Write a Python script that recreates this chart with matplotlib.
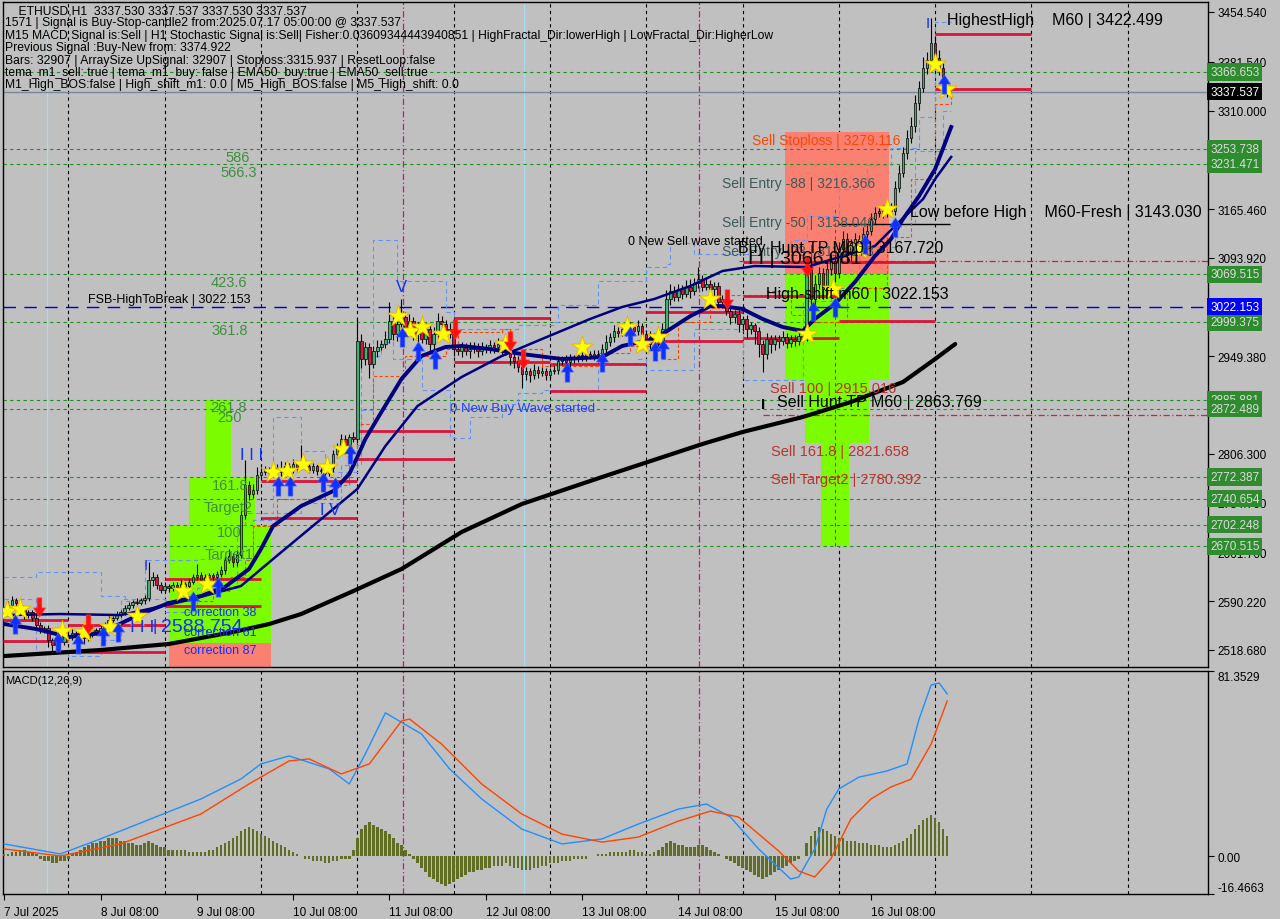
import matplotlib
matplotlib.use("Agg")
import numpy as np
import matplotlib.pyplot as plt
from matplotlib.path import Path
from matplotlib.patches import Rectangle

plt.rcParams['font.family'] = ['Liberation Sans', 'DejaVu Sans']

# ---- hourly ETHUSD candles, 7 Jul 08:00 onwards (closes)
first_open = 2575.0
closes = [
    2578, 2585, 2592, 2588, 2578, 2570, 2574, 2566, 2555, 2548, 2551, 2533, 2526, 2536, 2530, 2541, 2538, 2544, 2539, 2545, 2536, 2541, 2548, 2545,
    2551, 2557, 2563, 2566, 2572, 2574, 2580, 2585, 2589, 2588, 2592, 2595, 2622, 2625, 2614, 2607, 2613, 2610, 2614, 2611, 2616, 2613, 2619, 2625,
    2629, 2622, 2625, 2628, 2625, 2630, 2636, 2651, 2657, 2648, 2658, 2717, 2761, 2747, 2754, 2775, 2780, 2783, 2779, 2783, 2786, 2780, 2789, 2783,
    2791, 2786, 2795, 2789, 2783, 2788, 2781, 2783, 2778, 2786, 2806, 2816, 2828, 2820, 2831, 2828, 2972, 2945, 2963, 2938, 2957, 2963, 2967, 2975,
    3001, 2982, 2997, 3007, 2989, 3001, 2982, 2992, 2975, 2990, 2967, 2982, 3001, 2997, 2982, 2990, 2960, 2957, 2963, 2957, 2960, 2964, 2957, 2963,
    2960, 2966, 2963, 2967, 2960, 2963, 2948, 2942, 2934, 2923, 2928, 2922, 2930, 2925, 2928, 2922, 2928, 2930, 2942, 2945, 2941, 2948, 2945, 2951,
    2948, 2953, 2950, 2953, 2951, 2960, 2970, 2978, 2987, 2984, 2990, 2985, 2992, 2987, 2994, 2982, 2967, 2978, 2975, 2967, 2990, 3034, 3045, 3037,
    3048, 3041, 3051, 3045, 3057, 3063, 3051, 3056, 3048, 3053, 3029, 3034, 3016, 3007, 3012, 2997, 3004, 2990, 2995, 2987, 2967, 2953, 2975, 2967,
    2975, 2972, 2978, 2969, 2975, 2972, 2979, 2978, 3081, 3034, 3056, 3071, 3048, 3078, 3090, 3071, 3107, 3122, 3100, 3115, 3122, 3115, 3129, 3134,
    3151, 3159, 3163, 3160, 3169, 3163, 3196, 3218, 3247, 3269, 3287, 3321, 3343, 3372, 3384, 3409, 3387, 3372, 3350, 3337.537,
]
wick_up = [
    4, 5, 6, 3, 4, 3, 4, 3, 5, 4, 3, 4, 3, 6, 3, 4, 3, 5, 3, 4, 3, 4, 5, 3,
    4, 3, 5, 3, 4, 3, 5, 4, 3, 6, 3, 4, 26, 8, 5, 4, 6, 3, 5, 4, 6, 3, 4, 5,
    16, 4, 5, 3, 4, 5, 6, 6, 10, 4, 8, 10, 37, 6, 8, 12, 5, 6, 4, 8, 5, 10, 6, 4,
    8, 5, 25, 4, 6, 5, 4, 3, 4, 8, 6, 7, 8, 6, 5, 7, 32, 10, 8, 6, 8, 10, 6, 12,
    28, 10, 8, 26, 8, 10, 6, 8, 5, 9, 6, 10, 12, 8, 6, 8, 6, 5, 8, 6, 10, 6, 5, 7,
    5, 8, 5, 10, 6, 5, 4, 6, 8, 5, 6, 4, 8, 5, 6, 4, 5, 6, 8, 5, 6, 5, 4, 6,
    5, 6, 4, 5, 6, 8, 10, 6, 8, 5, 6, 5, 8, 4, 8, 5, 6, 8, 5, 6, 8, 12, 10, 8,
    8, 6, 10, 12, 8, 18, 6, 8, 6, 5, 6, 5, 6, 8, 5, 6, 5, 6, 5, 4, 5, 6, 8, 5,
    6, 5, 8, 5, 6, 5, 6, 8, 15, 10, 12, 10, 8, 12, 10, 8, 10, 12, 8, 6, 8, 6, 10, 8,
    8, 10, 6, 8, 8, 6, 10, 12, 10, 12, 14, 12, 10, 16, 12, 36, 10, 12, 8, 4,
]
wick_dn = [
    4, 3, 4, 5, 4, 6, 4, 5, 6, 5, 4, 10, 12, 6, 8, 4, 5, 4, 6, 5, 8, 4, 3, 5,
    4, 5, 3, 4, 3, 5, 4, 3, 5, 4, 3, 6, 4, 10, 6, 5, 4, 6, 5, 4, 5, 6, 4, 3,
    5, 6, 4, 5, 6, 5, 4, 6, 5, 8, 6, 4, 6, 8, 5, 6, 5, 4, 6, 5, 4, 6, 5, 4,
    5, 6, 4, 6, 5, 4, 6, 4, 5, 4, 6, 5, 4, 6, 5, 4, 6, 12, 8, 20, 6, 8, 5, 6,
    6, 8, 10, 5, 8, 6, 8, 12, 6, 8, 12, 8, 5, 6, 8, 6, 10, 6, 8, 6, 10, 6, 8, 5,
    6, 5, 8, 6, 10, 8, 12, 10, 8, 20, 8, 10, 6, 8, 5, 8, 6, 5, 6, 5, 6, 8, 5, 4,
    6, 5, 4, 6, 5, 4, 6, 5, 8, 6, 5, 6, 8, 5, 6, 10, 12, 8, 6, 10, 8, 6, 10, 6,
    6, 8, 5, 10, 6, 8, 6, 5, 8, 10, 6, 8, 6, 10, 8, 12, 10, 14, 8, 20, 18, 26, 8, 12,
    8, 10, 6, 8, 6, 8, 6, 5, 6, 10, 12, 8, 15, 8, 10, 12, 6, 8, 12, 10, 8, 6, 8, 6,
    6, 8, 5, 8, 6, 5, 6, 5, 6, 8, 6, 8, 10, 6, 8, 5, 8, 10, 12, 8,
]

# moving averages (bar index, price)
ema_fast_i = [0, 8, 16, 24, 34, 41, 49, 55, 61, 64, 67, 74, 82, 86, 88, 90, 94, 99, 104, 110, 114, 121, 129, 139, 149,
              154, 162, 166, 171, 176, 179, 184, 189, 194, 199, 202, 207, 212, 217, 221, 224, 228, 232, 236]
ema_fast_p = [2556.7, 2549.4, 2537.6, 2543.5, 2571.4, 2587.5, 2597.8, 2611.0, 2637.4, 2666.8, 2700.5, 2729.8, 2751.8,
              2776.8, 2801.7, 2828.1, 2867.7, 2916.2, 2949.9, 2963.1, 2964.6, 2960.2, 2952.8, 2945.5, 2948.4, 2964.6,
              2974.8, 2989.5, 3008.5, 3023.2, 3023.2, 3018.8, 3004.2, 2992.4, 2986.6, 3004.2, 3026.2, 3058.4, 3096.6,
              3121.5, 3150.9, 3184.6, 3224.2, 3285.8]
ema_mid_i = [0, 14, 29, 36, 47, 59, 67, 76, 82, 88, 95, 103, 114, 124, 134, 146, 154, 162, 171, 179, 187, 200, 209,
             217, 223, 229, 232, 236]
ema_mid_p = [2569.9, 2571.4, 2569.9, 2578.7, 2593.4, 2612.5, 2652.1, 2696.1, 2725.4, 2754.8, 2817.9, 2876.5, 2919.1,
             2949.9, 2974.8, 3004.2, 3021.8, 3033.5, 3052.6, 3074.6, 3081.9, 3080.4, 3096.6, 3111.2, 3146.5, 3180.2,
             3209.6, 3241.9]
ema_slow_i = [0, 24, 41, 57, 66, 74, 87, 99, 114, 129, 149, 174, 184, 199, 211, 224, 232, 237]
ema_slow_p = [2509.8, 2518.6, 2527.4, 2545.0, 2556.7, 2571.4, 2605.1, 2637.4, 2691.7, 2732.8, 2772.4, 2820.8, 2838.4,
              2860.4, 2882.4, 2911.8, 2945.5, 2967.5]

# channel (light blue dashed steps) and trailing line (orange dashed)
band_hi_i = [0, 8, 24, 30, 35, 48, 58, 60, 67, 72, 74, 80, 88, 89, 92, 97, 98, 110, 112, 128, 137, 138, 148, 158, 160,
             165, 166, 170, 172, 184, 186, 195, 196, 200, 208, 215, 221, 228, 232, 236]
band_hi_p = [2626, 2633, 2598, 2591, 2650, 2652, 2700, 2720, 2860, 2860, 2810, 2780, 2790, 2870, 3120, 3120, 3060, 3015,
             2990, 2995, 3000, 3025, 3060, 3060, 3080, 3085, 3115, 3115, 3100, 3100, 3090, 3090, 3120, 3155, 3195,
             3230, 3255, 3300, 3440, 3440]
band_lo_i = [0, 8, 16, 24, 29, 36, 40, 48, 58, 62, 68, 74, 84, 88, 89, 94, 97, 104, 111, 116, 124, 128, 134, 146, 148,
             158, 160, 172, 180, 184, 197, 199, 206, 213, 222, 227, 234, 236]
band_lo_p = [2593, 2515, 2510, 2533, 2593, 2593, 2575, 2610, 2650, 2710, 2720, 2735, 2790, 2820, 2950, 2970, 2945, 2900,
             2830, 2860, 2880, 2895, 2900, 2900, 2940, 2945, 2930, 2990, 2990, 2915, 2915, 3030, 3050, 3110, 3145, 3250,
             3310, 3310]
trail_i = [40, 52, 56, 60, 62, 68, 80, 86, 88, 92, 100, 110, 113, 124, 126, 134, 140, 148, 156, 164, 168, 176, 180,
           190, 196, 200, 210, 220, 226, 232, 236]
trail_p = [2590, 2605, 2625, 2650, 2700, 2740, 2760, 2790, 2850, 2920, 2950, 2960, 2985, 2990, 2960, 2935, 2935, 2955,
           2965, 2945, 3000, 3020, 3040, 3045, 3010, 3000, 3050, 3125, 3210, 3320, 3340]

# signal markers (bar index, price)
star_i = [0.7, 3.9, 14.4, 19.9, 26.4, 33.1, 44.6, 50.5, 67.0, 70.5, 74.5, 80.4, 84.4, 98.1, 101.1, 104.1, 109.4, 124.8,
          144.0, 155.2, 159.0, 163.0, 175.9, 200.1, 206.6, 213.3, 220.0, 232.0, 234.7]
star_p = [2575.8, 2578.7, 2546.5, 2545.0, 2552.3, 2568.5, 2605.1, 2615.4, 2779.7, 2781.2, 2791.4, 2787.0, 2813.4,
          3008.6, 2986.6, 2992.4, 2982.2, 2967.5, 2963.1, 2992.4, 2967.5, 2977.8, 3033.5, 2982.2, 3048.2, 3106.9,
          3165.6, 3378.3, 3341.6]
buy_i = [2.7, 13.4, 18.4, 24.6, 28.4, 47.1, 53.3, 68.2, 71.2, 79.4, 82.4, 86.2, 99.1, 103.1, 107.4, 140.3, 149.0, 156.0,
         162.2, 164.2, 201.6, 207.1, 214.5, 222.0, 234.2]
buy_p = [2556.7, 2530.3, 2527.4, 2539.1, 2545.0, 2590.5, 2611.0, 2759.2, 2759.2, 2765.0, 2757.7, 2806.1, 2977.8, 2957.2,
         2945.5, 2926.4, 2941.1, 2979.2, 2957.2, 2960.2, 3015.9, 3021.8, 3114.2, 3139.1, 3348.9]
sell_i = [8.7, 20.9, 112.3, 126.1, 129.3, 180.1, 200.1]
sell_p = [2581.7, 2556.7, 2989.5, 2971.9, 2945.5, 3033.5, 3080.4]

# previous-period high / low segments (crimson)
seg_x0 = [-0.3, -0.3, 16, 16, 40, 40, 64, 64, 88, 88, 112, 112, 136, 136, 160, 160, 184, 184, 184, 208, 232, 232]
seg_x1 = [16, 16, 40, 40, 64, 64, 88, 88, 112, 112, 136, 136, 160, 160, 184, 184, 208, 208, 232, 232, 256, 256]
seg_p = [2562.6, 2531.8, 2555.2, 2515.6, 2622.7, 2583.1, 2766.5, 2712.2, 2839.9, 2798.8, 3005.6, 2941.1, 2938.1,
         2898.5, 3014.4, 2971.9, 3037.9, 2976.3, 3087.8, 3001.2, 3422.499, 3341.6]

# fibonacci zones: x from, x to, price low, price high
zone_x0 = [50, 46, 41, 41, 194.5, 194.5, 199.5, 203.5]
zone_x1 = [56.5, 62.5, 66.5, 66.5, 220.5, 220.5, 215.5, 210.5]
zone_lo = [2772.387, 2702.248, 2529.0, 2470.0, 3069.515, 2915.016, 2821.658, 2670.515]
zone_hi = [2885.881, 2772.387, 2702.248, 2529.0, 3279.116, 3069.515, 2915.016, 2821.658]
zone_col = ['#7cfc00', '#7cfc00', '#7cfc00', '#fa8072', '#fa8072', '#7cfc00', '#7cfc00', '#7cfc00']

fib_levels = [3366.653, 3253.738, 3231.471, 3069.515, 2999.375, 2885.881, 2872.489, 2772.387, 2740.654, 2702.248, 2670.515]
bid_price = 3337.537
fsb_price = 3022.153
hunt_levels = [3089.0, 2863.769]
hunt_from = [183, 189]
low_before_high = 3143.030

price_ticks = [3454.540, 3381.540, 3310.000, 3165.460, 3093.920, 2949.380, 2806.300, 2734.760, 2661.760, 2590.220, 2518.680]
date_ticks = [0, 24, 48, 72, 96, 120, 144, 168, 192, 216]
date_labels = ['7 Jul 2025', '8 Jul 08:00', '9 Jul 08:00', '10 Jul 08:00', '11 Jul 08:00', '12 Jul 08:00',
               '13 Jul 08:00', '14 Jul 08:00', '15 Jul 08:00', '16 Jul 08:00']
magenta_marks = [99.3, 173.2]
cyan_marks = [10.7, 129.6]

# MACD(12,26,9)
macd_hist = [
    1, 1, 2, 2, 3, 3, 2, 2, 1, -1, -2, -2, -3, -3, -2, -2, -1, 1, 2, 3, 4, 5, 6, 6,
    7, 7, 8, 8, 8, 7, 7, 6, 6, 5, 5, 6, 7, 6, 5, 4, 4, 3, 3, 3, 3, 3, 2, 2,
    2, 2, 2, 3, 3, 4, 5, 6, 7, 8, 9, 11, 12, 13, 12, 11, 10, 9, 8, 7, 6, 5, 4, 3,
    2, 1, 0, -1, -1, -2, -2, -2, -3, -3, -2, -2, -1, -1, -1, 3, 8, 12, 14, 15, 14, 13, 12, 11,
    10, 8, 6, 5, 3, 1, -1, -3, -5, -7, -9, -10, -11, -12, -13, -12, -11, -10, -9, -8, -7, -7, -6, -6,
    -5, -5, -4, -4, -4, -3, -4, -5, -5, -6, -6, -6, -5, -5, -4, -4, -3, -3, -3, -2, -2, -2, -1, -1,
    -1, -1, 0, 0, 1, 1, 1, 2, 2, 2, 2, 2, 3, 3, 2, 2, 1, 1, 2, 3, 4, 6, 7, 6,
    5, 5, 4, 4, 4, 5, 5, 4, 3, 2, 1, 0, -1, -2, -3, -4, -5, -6, -7, -8, -9, -10, -9, -8,
    -7, -6, -5, -4, -3, -2, -1, 0, 6, 9, 11, 13, 12, 11, 10, 9, 8, 8, 7, 7, 7, 6, 6, 6,
    5, 5, 5, 4, 4, 4, 5, 6, 7, 8, 10, 12, 14, 16, 17, 18, 17, 15, 12, 9,
]
macd_i = [0, 14, 24, 49, 59, 64, 71, 81, 86, 90, 95, 104, 111, 119, 129, 139, 149, 158, 168, 175, 181, 188, 196, 198,
          202, 205, 208, 213, 220, 225, 228, 231, 233, 235]
macd_v = [5.5, 1.1, 7.7, 25.2, 34.0, 40.6, 44.1, 38.4, 31.8, 45.0, 63.0, 53.7, 38.4, 25.2, 12.0, 5.5, 7.7, 14.2, 20.8,
          23.0, 17.3, 3.3, -9.9, -9.0, 3.3, 20.8, 29.6, 34.8, 37.5, 40.6, 60.3, 75.2, 76.1, 71.3]
signal_i = [0, 14, 29, 49, 61, 71, 76, 84, 91, 99, 101, 109, 119, 129, 139, 149, 158, 168, 176, 183, 193, 198, 202,
            206, 211, 216, 221, 226, 231, 235]
signal_v = [3.3, 0.2, 5.5, 18.6, 31.8, 41.9, 42.8, 36.2, 40.6, 59.4, 60.3, 49.3, 31.8, 18.6, 9.8, 6.3, 8.5, 15.5,
            19.9, 17.3, 2.4, -6.4, -9.0, -1.1, 16.4, 25.2, 30.5, 33.9, 49.3, 68.2]
macd_ticks = [81.3529, 0.0, -16.4663]
macd_tick_labels = ['81.3529', '0.00', '-16.4663']

W, H = 1280, 920
BG = '#c0c0c0'
fig = plt.figure(figsize=(W / 100, H / 100), dpi=100, facecolor=BG)
ax = fig.add_axes([3 / W, 1 - 668 / H, 1205 / W, 665 / H], facecolor=BG)
mx = fig.add_axes([3 / W, 1 - 895 / H, 1205 / W, 223 / H], facecolor=BG, sharex=ax)


def label(x, y, s, size=8.5, color='black', **kw):
    fig.text(x / W, 1 - y / H, s, fontsize=size, color=color, va='center', ha='left', **kw)


for a in (ax, mx):
    for sp in a.spines.values():
        sp.set_color('black')
        sp.set_linewidth(1)
    a.yaxis.tick_right()
    a.tick_params(axis='y', direction='out', length=4, pad=3, labelsize=8.5, colors='black')
    for d in range(16, 300, 24):
        a.axvline(d, color='black', ls=(0, (3, 3)), lw=0.8, zorder=0.5)
    for m in magenta_marks:
        a.axvline(m, color='#c71585', ls=(0, (5, 2, 1, 2)), lw=0.9, zorder=0.6)
    for m in cyan_marks:
        a.axvline(m, color='#a8dcf0', lw=0.9, zorder=0.6)

ax.set_xlim(-0.3, 300.0)
ax.set_ylim(2493.7, 3469.2)

# zones
for x0, x1, lo, hi, col in zip(zone_x0, zone_x1, zone_lo, zone_hi, zone_col):
    ax.add_patch(Rectangle((x0, lo), x1 - x0, hi - lo, facecolor=col, edgecolor='none', zorder=1))
ax.vlines(207.1, 2670.5, 3170, color='#c71585', ls=(0, (3, 3)), lw=0.8, zorder=1.5)

for lv in fib_levels:
    ax.axhline(lv, color='#1f8f1f', ls=(0, (3, 3)), lw=0.8, zorder=2)
ax.axhline(fsb_price, color='#0000cd', ls=(0, (9, 6)), lw=1.0, zorder=2)
ax.axhline(bid_price, color='#778899', lw=1.0, zorder=2)
for lv, x0 in zip(hunt_levels, hunt_from):
    ax.hlines(lv, x0, 300, color='#e02020', ls=(0, (5, 2, 1, 2)), lw=0.9, zorder=2)
ax.hlines(low_before_high, 207.8, 235.7, color='black', lw=1.0, zorder=2)

# channel / trailing lines
ax.plot(band_hi_i, band_hi_p, drawstyle='steps-post', color='#6495ed', ls=(0, (4, 3)), lw=0.8, zorder=2.5)
ax.plot(band_lo_i, band_lo_p, drawstyle='steps-post', color='#6495ed', ls=(0, (4, 3)), lw=0.8, zorder=2.5)
ax.plot(trail_i, trail_p, drawstyle='steps-post', color='#ff4500', ls=(0, (3, 2)), lw=0.8, zorder=2.5)

for x0, x1, p in zip(seg_x0, seg_x1, seg_p):
    ax.hlines(p, x0, x1, color='#dc143c', lw=2.0, zorder=3)

# candles
c = np.array(closes, dtype=float)
o = np.concatenate([[first_open], c[:-1]])
idx = np.arange(len(c))
hi = np.maximum(o, c) + np.array(wick_up)
lo = np.minimum(o, c) - np.array(wick_dn)
ax.vlines(idx, lo, hi, color='black', lw=0.8, zorder=4)
bull = c >= o
body = np.maximum(np.abs(c - o), 0.8)
ax.bar(idx[bull], body[bull], bottom=o[bull], width=0.62, color='#3cb371', edgecolor='black', lw=0.5, zorder=5)
ax.bar(idx[~bull], body[~bull], bottom=c[~bull], width=0.62, color='#dc143c', edgecolor='black', lw=0.5, zorder=5)

# moving averages
ax.plot(ema_slow_i, ema_slow_p, color='black', lw=3.0, zorder=6, solid_capstyle='round')
ax.plot(ema_mid_i, ema_mid_p, color='#000080', lw=1.8, zorder=6)
ax.plot(ema_fast_i, ema_fast_p, color='#000080', lw=2.8, zorder=6)

# markers
up_verts = [(-0.24, -1.0), (0.24, -1.0), (0.24, 0.05), (0.62, 0.05), (0.0, 1.0), (-0.62, 0.05), (-0.24, 0.05), (-0.24, -1.0)]
codes = [Path.MOVETO] + [Path.LINETO] * 6 + [Path.CLOSEPOLY]
up_arrow = Path(up_verts, codes)
dn_arrow = Path([(x, -y) for x, y in up_verts], codes)
ax.scatter(star_i, star_p, marker='*', s=260, color='#ffff00', edgecolors='#e8b000', linewidths=0.6, zorder=7)
ax.scatter(buy_i, buy_p, marker=up_arrow, s=190, color='#1030ff', edgecolors='#4060ff', linewidths=0.5, zorder=8)
ax.scatter(sell_i, sell_p, marker=dn_arrow, s=190, color='#ff1010', edgecolors='#ff3030', linewidths=0.5, zorder=8)

ax.set_yticks(price_ticks)
ax.set_yticklabels([f'{t:.3f}' for t in price_ticks])
ax.tick_params(axis='x', bottom=False, labelbottom=False)

# right-axis price boxes
ytr = ax.get_yaxis_transform()
box_kw = dict(fontsize=8.5, va='center', ha='left', transform=ytr, clip_on=False, zorder=20)
for lv in fib_levels:
    ax.text(1.0017, lv, f'{lv:.3f}', color='#dcdcdc',
            bbox=dict(boxstyle='square,pad=0.22', fc='#2e8b2e', ec='none'), **box_kw)
ax.text(1.0017, bid_price, f'{bid_price:.3f}', color='white',
        bbox=dict(boxstyle='square,pad=0.22', fc='black', ec='none'), **box_kw)
ax.text(1.0017, fsb_price, f'{fsb_price:.3f}', color='white',
        bbox=dict(boxstyle='square,pad=0.22', fc='#0000ff', ec='none'), **box_kw)

# MACD panel
mx.bar(idx, macd_hist, width=0.62, color='#5f6e22', zorder=3)
mx.plot(macd_i, macd_v, color='#1e90ff', lw=1.0, zorder=4)
mx.plot(signal_i, signal_v, color='#ff4500', lw=1.0, zorder=4)
mx.set_ylim(-16.4663, 81.3529)
mx.set_yticks(macd_ticks)
mx.set_yticklabels(macd_tick_labels)
tl = mx.get_yticklabels()
tl[0].set_verticalalignment('top')
tl[2].set_verticalalignment('bottom')
mx.set_xticks(date_ticks)
mx.set_xticklabels(date_labels, ha='left')
mx.tick_params(axis='x', direction='out', length=4, pad=5, labelsize=8.5, colors='black')
mx.set_xlim(-0.3, 300.0)

# info block
info = [
    '    ETHUSD,H1  3337.530 3337.537 3337.530 3337.537',
    '1571 | Signal is Buy-Stop-candle2 from:2025.07.17 05:00:00 @ 3337.537',
    'M15 MACD Signal is:Sell | H1 Stochastic Signal is:Sell| Fisher:0.03609344443940851 | HighFractal_Dir:lowerHigh | LowFractal_Dir:HigherLow',
    'Previous Signal :Buy-New from: 3374.922',
    'Bars: 32907 | ArraySize UpSignal: 32907 | Stoploss:3315.937 | ResetLoop:false',
    'tema_m1_sell: true | tema_m1_buy: false | EMA50_buy:true | EMA50_sell:true',
    'M1_High_BOS:false | High_shift_m1: 0.0 | M5_High_BOS:false | M5_High_shift: 0.0',
]
for k, line in enumerate(info):
    label(5, 11 + 12.4 * k, line, size=8.7)

green = '#3f8f3f'
for x, y, s in [(225, 158, '586'), (220, 173, '566.3'), (211, 283, '423.6'), (211, 331, '361.8'),
                (210, 408, '261.8'), (217, 418, '250'), (212, 486, '161.8'), (204, 508, 'Target2'),
                (217, 533, '100'), (205, 555, 'Target1')]:
    label(x, y, s, size=10.5, color=green)

label(88, 300, 'FSB-HighToBreak | 3022.153', size=9)
label(450, 409, '0 New Buy Wave started', size=9.5, color='#2040ff')
label(628, 242, '0 New Sell wave started', size=9)
label(184, 613, 'correction 38', size=9, color='#1030ff')
label(184, 633, 'correction 61', size=9, color='#1030ff')
label(184, 651, 'correction 87', size=9, color='#1030ff')
label(130, 627, 'I I I', size=12.5, color='#1030ff')
label(153, 627, '|', size=12.5, color='#1030ff')
label(161, 627, '2588.754', size=14, color='#1030ff')
label(240, 456, 'I I I', size=12, color='#1030ff')
label(320, 511, 'I V', size=12, color='#1030ff')
label(396, 287, 'V', size=12, color='#1030ff')
label(144, 566, 'I', size=11, color='#1030ff')
label(926, 24, 'I', size=11, color='#1030ff')

red_txt = '#b5362c'
label(752, 141, 'Sell Stoploss | 3279.116', size=10, color='#ff4500')
label(722, 184, 'Sell Entry -88 | 3216.366', size=10, color='#3c5a5a')
label(722, 223, 'Sell Entry -50 | 3158.046', size=10, color='#3c5a5a')
label(722, 252, 'Sell Entry -23 | 3110.173', size=10, color='#3c5a5a')
label(738, 249, 'Buy Hunt TP M60 | 3167.720', size=11.5)
label(748, 259, 'I I | 3066.081', size=14)
label(766, 295, 'High-shift m60 | 3022.153', size=11.5)
label(770, 389, 'Sell 100 | 2915.016', size=10.5, color=red_txt)
label(761, 405, 'I', size=11, fontweight='bold')
label(777, 403, 'Sell Hunt TP M60 | 2863.769', size=11.5)
label(771, 452, 'Sell 161.8 | 2821.658', size=10.5, color=red_txt)
label(771, 480, 'Sell Target2 | 2780.392', size=10.5, color=red_txt)
label(910, 213, 'Low before High    M60-Fresh | 3143.030', size=11.5)
label(947, 21, 'HighestHigh    M60 | 3422.499', size=11.5)
label(5, 681, 'MACD(12,26,9)', size=8)

fig.savefig('out.png', dpi=100, facecolor=BG)
